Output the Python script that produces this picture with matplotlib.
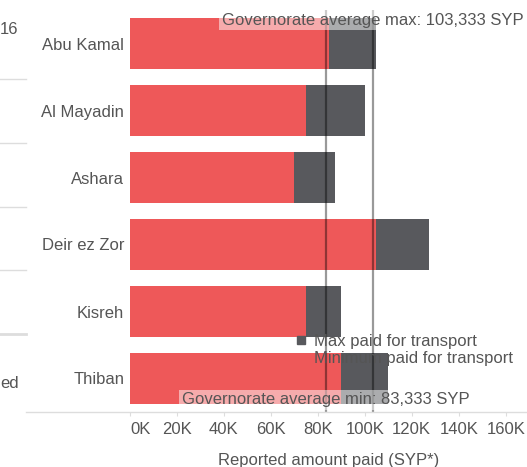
import matplotlib
matplotlib.use('Agg')
import matplotlib.pyplot as plt
import matplotlib.transforms as mtransforms
from matplotlib.lines import Line2D

plt.rcParams['font.family'] = ['Liberation Sans', 'DejaVu Sans']

districts = ['Abu Kamal', 'Al Mayadin', 'Ashara', 'Deir ez Zor', 'Kisreh', 'Thiban']
min_paid = [85000, 75000, 70000, 105000, 75000, 90000]
max_paid = [105000, 100000, 87500, 127500, 90000, 110000]
avg_min = 83333
avg_max = 103333
xticks = [0, 20000, 40000, 60000, 80000, 100000, 120000, 140000, 160000]
xticklabels = ['0K', '20K', '40K', '60K', '80K', '100K', '120K', '140K', '160K']

RED = '#EE5859'
GREY = '#58595D'
TXT = '#555555'
FS = 12

W, H = 527, 467
fig = plt.figure(figsize=(W / 100, H / 100), dpi=100)
# axes: 0K at x=129.7px, 2.35 px per 1K; rows from y=10 to y=412
left = 129.7
ax = fig.add_axes([left / W, 1 - 412 / H, (W - left) / W, 402 / H])
ax.set_xlim(0, (W - left) / 2.35 * 1000)
ax.set_ylim(len(districts) - 0.5, -0.5)

ypos = list(range(len(districts)))
ax.barh(ypos, max_paid, height=0.76, color=GREY, zorder=2)
ax.barh(ypos, min_paid, height=0.76, color=RED, zorder=3)

for v in (avg_min, avg_max):
    ax.axvline(v, color='black', alpha=0.4, lw=1.6, zorder=4)

ax.text(avg_max, -0.35, 'Governorate average max: 103,333 SYP', ha='center', va='center',
        fontsize=FS, color=TXT, zorder=5,
        bbox=dict(facecolor='white', alpha=0.5, edgecolor='none', pad=2))
ax.text(avg_min, 5.32, 'Governorate average min: 83,333 SYP', ha='center', va='center',
        fontsize=FS, color=TXT, zorder=5,
        bbox=dict(facecolor='white', alpha=0.5, edgecolor='none', pad=2))

handles = [Line2D([], [], marker='s', ls='', color=GREY, markersize=6),
           Line2D([], [], marker='s', ls='', color=RED, markersize=6)]
leg = ax.legend(handles, ['Max paid for transport', 'Minimum paid for transport'],
                loc='upper left', bbox_to_anchor=((296 - left) / (W - left), 1 - 324 / 402),
                frameon=False, fontsize=FS, handlelength=0.6, handletextpad=0.5,
                borderpad=0, labelspacing=0.15, borderaxespad=0)
for t in leg.get_texts():
    t.set_color(TXT)
leg.set_zorder(6)

ax.set_yticks(ypos)
ax.set_yticklabels(districts, fontsize=FS, color=TXT)
ax.tick_params(axis='y', length=0, pad=4)
ax.set_xticks(xticks)
ax.set_xticklabels(xticklabels, fontsize=FS, color=TXT)
ax.tick_params(axis='x', length=3, color='#dddddd', pad=4)
# first tick label is nudged right so it stays inside the plot area
first = ax.get_xticklabels()[0]
first.set_transform(first.get_transform() +
                    mtransforms.ScaledTranslation(11 / 100, 0, fig.dpi_scale_trans))
ax.set_xlabel('Reported amount paid (SYP*)', fontsize=FS, color=TXT, labelpad=12)
for s in ax.spines.values():
    s.set_visible(False)

# bottom rule and the cut-off neighbouring panel on the left
fig.add_artist(Line2D([26 / W, 1], [1 - 411.5 / H] * 2, color='#dddddd', lw=1))
for y in (79, 143, 207, 270):
    fig.add_artist(Line2D([0, 26 / W], [1 - y / H] * 2, color='#dddddd', lw=1))
fig.add_artist(Line2D([0, 26 / W], [1 - 334 / H] * 2, color='#dddddd', lw=2))
fig.text(0, 1 - 30 / H, '16', fontsize=FS, color=TXT, ha='left', va='center')
fig.text(0, 1 - 383 / H, 'ed', fontsize=FS, color=TXT, ha='left', va='center')

fig.savefig('out.png', dpi=100)
